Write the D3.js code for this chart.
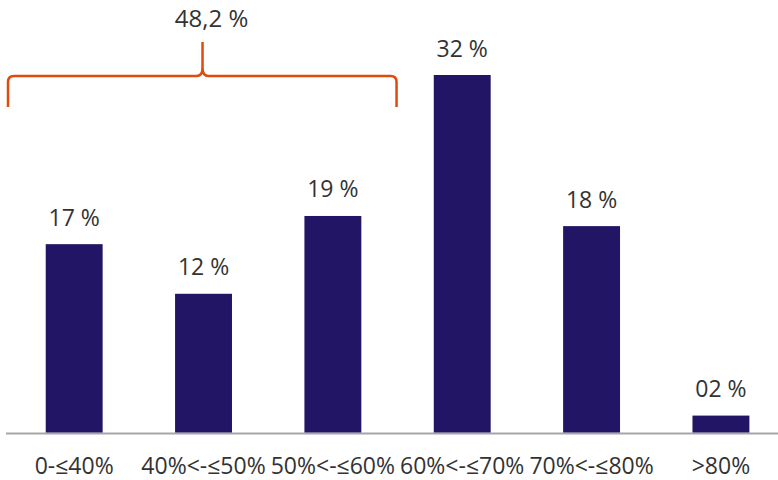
<!DOCTYPE html>
<html>
<head>
<meta charset="utf-8">
<script src="https://cdn.jsdelivr.net/npm/d3@7"></script>
<style>
  html, body { margin: 0; padding: 0; background: #fff; }
  svg { display: block; }
  text { font-family: "Open Sans", "Liberation Sans", sans-serif; fill: #333333; }
</style>
</head>
<body>
<div id="chart"></div>
<script>
const categories = ["0-≤40%", "40%<-≤50%", "50%<-≤60%", "60%<-≤70%", "70%<-≤80%", ">80%"];
const values = [16.7, 12.3, 19.2, 31.7, 18.3, 1.5];
const braceLabel = "48,2 %";
const braceCategories = ["0-≤40%", "40%<-≤50%", "50%<-≤60%"];

const W = 778, H = 480;
const baseY = 432.5;

const svg = d3.select("#chart").append("svg").attr("width", W).attr("height", H);

const x = d3.scaleBand().domain(categories).range([9.5, 785.6]).paddingInner(0.56).paddingOuter(0.28);
const y = d3.scaleLinear().domain([0, 31.7]).range([baseY, 75]);

// axis baseline
svg.append("line")
  .attr("x1", 6).attr("x2", W).attr("y1", baseY + 1).attr("y2", baseY + 1)
  .attr("stroke", "#a6a6a6").attr("stroke-width", 2);

// bars
svg.selectAll("rect.bar").data(values).enter().append("rect")
  .attr("class", "bar")
  .attr("x", (d, i) => x(categories[i]))
  .attr("width", x.bandwidth())
  .attr("y", d => y(d))
  .attr("height", d => baseY - y(d))
  .attr("fill", "#231565");

// value labels
const fmt = d => String(Math.round(d)).padStart(2, "0") + " %";
svg.selectAll("text.val").data(values).enter().append("text")
  .attr("class", "val")
  .attr("x", (d, i) => x(categories[i]) + x.bandwidth() / 2)
  .attr("y", d => y(d) - 18.5)
  .attr("text-anchor", "middle")
  .attr("font-size", 23)
  .text(fmt);

// category labels
svg.selectAll("text.cat").data(categories).enter().append("text")
  .attr("class", "cat")
  .attr("x", d => x(d) + x.bandwidth() / 2)
  .attr("y", 473.5)
  .attr("text-anchor", "middle")
  .attr("font-size", 23)
  .text(d => d);

// brace over first three categories
const left = x.range()[0] - 1.5;
const right = x(braceCategories[2]) + x.bandwidth() + (x(categories[0]) - x.range()[0]) - 1;
const mid = x(braceCategories[1]) + x.bandwidth() / 2 - 1;
const yBot = 107, yTop = 76, yTip = 42, r = 6;
const p = d3.path();
p.moveTo(left, yBot);
p.lineTo(left, yTop + r);
p.quadraticCurveTo(left, yTop, left + r, yTop);
p.lineTo(mid - 6, yTop);
p.quadraticCurveTo(mid, yTop, mid, yTop - 8);
p.lineTo(mid, yTip);
p.moveTo(mid, yTop - 8);
p.quadraticCurveTo(mid, yTop, mid + 6, yTop);
p.lineTo(right - r, yTop);
p.quadraticCurveTo(right, yTop, right, yTop + r);
p.lineTo(right, yBot);
svg.append("path").attr("d", p.toString())
  .attr("fill", "none").attr("stroke", "#e04a0c").attr("stroke-width", 2.5);

svg.append("text")
  .attr("x", mid + 9).attr("y", 26.5)
  .attr("text-anchor", "middle")
  .attr("font-size", 24)
  .text(braceLabel);
</script>
</body>
</html>
